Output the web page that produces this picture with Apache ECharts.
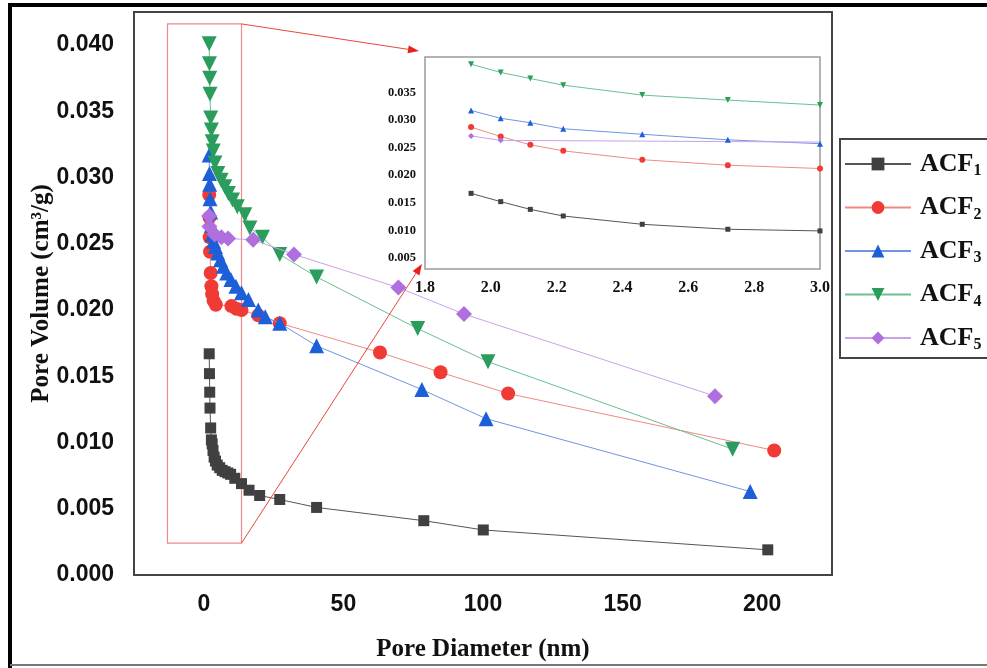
<!DOCTYPE html>
<html>
<head>
<meta charset="utf-8">
<script src="https://cdn.jsdelivr.net/npm/echarts@6/dist/echarts.min.js"></script>
<style>
  html, body { margin: 0; padding: 0; background: #fff; }
  #main { width: 987px; height: 668px; }
</style>
</head>
<body>
<div id="main"></div>
<script>
// pore diameter (nm) / pore volume (cm3/g)
var names = ['ACF1', 'ACF2', 'ACF3', 'ACF4', 'ACF5'];

var xACF1 = [1.94, 2.03, 2.12, 2.22, 2.46, 2.72, 3.0, 3.3, 3.7, 4.2, 4.8, 5.7, 6.6, 7.6, 8.6, 9.6, 11.1, 13.5, 16.2, 20, 27.2, 40.4, 78.8, 100.1, 202];
var yACF1 = [0.0167, 0.0152, 0.0138, 0.0126, 0.0111, 0.0102, 0.0099, 0.0094, 0.0089, 0.0086, 0.0083, 0.0081, 0.0079, 0.0078, 0.0077, 0.0076, 0.0073, 0.0069, 0.0064, 0.0060, 0.0057, 0.0051, 0.0041, 0.0034, 0.0019];

var xACF2 = [1.94, 2.03, 2.12, 2.22, 2.46, 2.72, 3.0, 3.5, 4.3, 9.9, 11.7, 13.5, 19.5, 27.2, 63.1, 84.8, 109, 204.3];
var yACF2 = [0.0287, 0.0270, 0.0255, 0.0244, 0.0228, 0.0218, 0.0212, 0.0207, 0.0204, 0.0203, 0.0201, 0.0200, 0.0196, 0.0190, 0.0168, 0.0153, 0.0137, 0.0094];

var xACF3 = [1.94, 2.03, 2.12, 2.22, 2.46, 2.72, 3.0, 3.5, 4.2, 5, 6, 7, 8.2, 9.7, 11.5, 13.5, 16, 19.5, 22, 27.2, 40.4, 78.1, 101.1, 195.7];
var yACF3 = [0.0317, 0.0303, 0.0295, 0.0284, 0.0274, 0.0264, 0.0257, 0.0252, 0.0248, 0.0243, 0.0238, 0.0233, 0.0228, 0.0223, 0.0218, 0.0213, 0.0208, 0.0200, 0.0195, 0.0190, 0.0173, 0.0140, 0.0118, 0.0063];

var xACF4 = [1.94, 2.03, 2.12, 2.22, 2.46, 2.72, 3.0, 3.4, 4, 5, 6.2, 7.5, 8.8, 10.3, 12, 14.7, 16.5, 21, 27.2, 40.4, 76.6, 101.8, 189.4];
var yACF4 = [0.0401, 0.0386, 0.0375, 0.0363, 0.0345, 0.0336, 0.0327, 0.0320, 0.0311, 0.0303, 0.0298, 0.0293, 0.0288, 0.0283, 0.0278, 0.0272, 0.0262, 0.0255, 0.0242, 0.0225, 0.0186, 0.0161, 0.0095];

var xACF5 = [1.94, 2.03, 3.9, 6.3, 8.7, 17.7, 32.3, 69.7, 93.2, 183.1];
var yACF5 = [0.0271, 0.0263, 0.0257, 0.0255, 0.0254, 0.0253, 0.0242, 0.0217, 0.0197, 0.0135];

var xTicks = [0, 50, 100, 150, 200];
var yTicks = [0, 0.005, 0.010, 0.015, 0.020, 0.025, 0.030, 0.035, 0.040];
var insetYTicks = [0.005, 0.010, 0.015, 0.020, 0.025, 0.030, 0.035];

// red zoom box drawn on the main plot (data units)
var zoomBox = { x0: -13, x1: 13.5, y0: 0.0024, y1: 0.0416 };

var xs = [xACF1, xACF2, xACF3, xACF4, xACF5];
var ys = [yACF1, yACF2, yACF3, yACF4, yACF5];
var markColor = ['#404040', '#ef3b34', '#1d5fd8', '#2a9c5c', '#b06fde'];
var lineColor = ['#555555', '#f08a80', '#6f95e0', '#6cbf90', '#c9a2ea'];
var symbols = ['rect', 'circle', 'triangle', 'triangle', 'diamond'];
var rotate = [0, 0, 0, 180, 0];
var bigSize = [11, 14, 15, 15, 16];
var smallSize = [5, 6, 6, 6, 6];

var serif = '"Liberation Serif", "DejaVu Serif", serif';
var sans = '"Liberation Sans", Arial, sans-serif';

var chartDom = document.getElementById('main');
var myChart = echarts.init(chartDom);

var series = [];
for (var i = 0; i < names.length; i++) {
  var pts = xs[i].map(function (v, j) { return [v, ys[i][j]]; });
  series.push({
    name: names[i], type: 'line', xAxisIndex: 0, yAxisIndex: 0,
    data: pts, symbol: symbols[i], symbolSize: bigSize[i], symbolRotate: rotate[i],
    itemStyle: { color: markColor[i] },
    lineStyle: { color: lineColor[i], width: 1 },
    z: 3 + i, animation: false
  });
  series.push({
    name: names[i], type: 'line', xAxisIndex: 1, yAxisIndex: 1,
    data: pts, symbol: symbols[i], symbolSize: smallSize[i], symbolRotate: rotate[i],
    itemStyle: { color: markColor[i] },
    lineStyle: { color: lineColor[i], width: 1 },
    clip: true, z: 10, animation: false
  });
}
// red rectangle marking the zoomed region
series[0].markArea = {
  silent: true,
  itemStyle: { color: 'rgba(0,0,0,0)', borderColor: '#ee8a8a', borderWidth: 1.2 },
  data: [[{ coord: [zoomBox.x0, zoomBox.y0] }, { coord: [zoomBox.x1, zoomBox.y1] }]]
};

var option = {
  backgroundColor: '#fff',
  animation: false,
  grid: [
    { left: 134, top: 12, width: 698, height: 563, show: true, borderColor: '#444', borderWidth: 2 },
    { left: 425, top: 57, width: 395, height: 212, show: true, borderColor: '#9a9a9a', borderWidth: 1.5, backgroundColor: '#fff', z: 8 }
  ],
  xAxis: [
    {
      type: 'value', gridIndex: 0, min: -25, max: 225,
      name: 'Pore Diameter (nm)', nameLocation: 'middle', nameGap: 62, nameMoveOverlap: false,
      nameTextStyle: { fontFamily: serif, fontWeight: 'bold', fontSize: 25, color: '#111' },
      axisLine: { show: false }, axisTick: { show: false }, splitLine: { show: false },
      axisLabel: { customValues: xTicks, margin: 18, fontFamily: sans, fontWeight: 'bold', fontSize: 23, color: '#111' }
    },
    {
      type: 'value', gridIndex: 1, min: 1.8, max: 3.0, interval: 0.2,
      axisLine: { show: false }, axisTick: { show: false }, splitLine: { show: false },
      axisLabel: {
        margin: 11, fontFamily: serif, fontWeight: 'bold', fontSize: 16, color: '#111',
        formatter: function (v) { return v.toFixed(1); }
      },
      z: 9
    }
  ],
  yAxis: [
    {
      type: 'value', gridIndex: 0, min: 0, max: 0.0425,
      name: 'Pore Volume (cm³/g)', nameLocation: 'middle', nameGap: 80, nameMoveOverlap: false,
      nameTextStyle: { fontFamily: serif, fontWeight: 'bold', fontSize: 25, color: '#111' },
      axisLine: { show: false }, axisTick: { show: false }, splitLine: { show: false },
      axisLabel: {
        customValues: yTicks, margin: 20, fontFamily: sans, fontWeight: 'bold', fontSize: 23, color: '#111',
        formatter: function (v) { return v.toFixed(3); }
      }
    },
    {
      type: 'value', gridIndex: 1, min: 0.003, max: 0.0414,
      axisLine: { show: false }, axisTick: { show: false }, splitLine: { show: false },
      axisLabel: {
        customValues: insetYTicks, margin: 9, fontFamily: serif, fontWeight: 'bold', fontSize: 12.5, color: '#111',
        formatter: function (v) { return v.toFixed(3); }
      },
      z: 9
    }
  ],
  legend: {
    data: names, orient: 'vertical', left: 839, top: 146,
    itemWidth: 66, itemHeight: 16, itemGap: 15.5,
    formatter: function (n) { return '{a|ACF}{s|' + n.slice(3) + '}'; },
    textStyle: {
      color: '#111', padding: [0, 0, 0, 4],
      rich: {
        a: { fontFamily: serif, fontWeight: 'bold', fontSize: 26, lineHeight: 30, color: '#111' },
        s: { fontFamily: serif, fontWeight: 'bold', fontSize: 16, lineHeight: 14, verticalAlign: 'bottom', color: '#111' }
      }
    }
  },
  graphic: [
    { type: 'rect', shape: { x: 840, y: 139, width: 160, height: 219 }, style: { fill: 'none', stroke: '#444', lineWidth: 2 }, z: 0 },
    { type: 'line', shape: { x1: 10, y1: 3, x2: 10, y2: 668 }, style: { stroke: '#000', lineWidth: 4 } },
    { type: 'line', shape: { x1: 8, y1: 5, x2: 990, y2: 5 }, style: { stroke: '#000', lineWidth: 4 } },
    { type: 'line', shape: { x1: 10, y1: 665, x2: 990, y2: 665 }, style: { stroke: '#777', lineWidth: 2 } }
  ],
  series: series
};

option && myChart.setOption(option);

// red arrows from the zoom box to the inset, placed through the axes
function arrow(p, q) {
  var dx = q[0] - p[0], dy = q[1] - p[1];
  var len = Math.sqrt(dx * dx + dy * dy), ux = dx / len, uy = dy / len;
  var bx = q[0] - ux * 11, by = q[1] - uy * 11;
  return [
    { type: 'line', shape: { x1: p[0], y1: p[1], x2: bx, y2: by }, style: { stroke: '#e8473c', lineWidth: 1 }, z: 20 },
    { type: 'polygon', shape: { points: [q, [bx - uy * 4, by + ux * 4], [bx + uy * 4, by - ux * 4]] }, style: { fill: '#e8211a' }, z: 20 }
  ];
}
var c1 = myChart.convertToPixel({ gridIndex: 0 }, [zoomBox.x1, zoomBox.y1]);
var c2 = myChart.convertToPixel({ gridIndex: 0 }, [zoomBox.x1, zoomBox.y0]);
var t1 = myChart.convertToPixel({ gridIndex: 1 }, [1.8, 0.0414]);
var t2 = myChart.convertToPixel({ gridIndex: 1 }, [1.8, 0.003]);
t1 = [t1[0] - 6, t1[1] - 6];
t2 = [t2[0] - 3, t2[1] - 5];
var extra = option.graphic.concat(arrow(c1, t1), arrow(c2, t2));
myChart.setOption({ graphic: extra });
</script>
</body>
</html>
